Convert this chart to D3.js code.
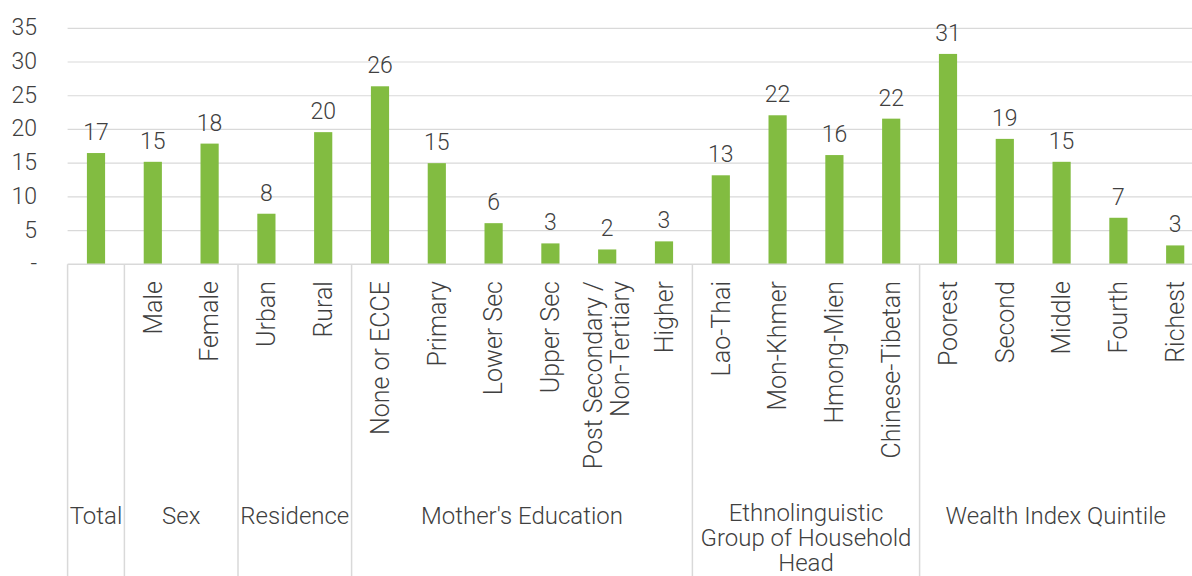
<!DOCTYPE html>
<html>
<head>
<meta charset="utf-8">
<script src="https://cdn.jsdelivr.net/npm/d3@7"></script>
<style>
  html, body { margin: 0; padding: 0; background: #fff; }
  svg { display: block; }
  text { font-family: Roboto, "Liberation Sans", Arial, sans-serif; font-weight: 300; fill: #404040; }
</style>
</head>
<body>
<svg id="chart" width="1192" height="576"></svg>
<script>
// ---- data ----
const categories = ["Total", "Male", "Female", "Urban", "Rural", "None or ECCE", "Primary", "Lower Sec", "Upper Sec",
  "Post Secondary /\nNon-Tertiary", "Higher", "Lao-Thai", "Mon-Khmer", "Hmong-Mien", "Chinese-Tibetan",
  "Poorest", "Second", "Middle", "Fourth", "Richest"];
const categoryLabels = ["", "Male", "Female", "Urban", "Rural", "None or ECCE", "Primary", "Lower Sec", "Upper Sec",
  "Post Secondary /\nNon-Tertiary", "Higher", "Lao-Thai", "Mon-Khmer", "Hmong-Mien", "Chinese-Tibetan",
  "Poorest", "Second", "Middle", "Fourth", "Richest"];
const values = [16.5, 15.2, 17.9, 7.5, 19.6, 26.4, 15.0, 6.1, 3.1, 2.2, 3.4, 13.2, 22.1, 16.2, 21.6, 31.2, 18.6, 15.2, 6.9, 2.8];
const groupNames = ["Total", "Sex", "Residence", "Mother's Education", "Ethnolinguistic\nGroup of Household\nHead", "Wealth Index Quintile"];
const groupSizes = [1, 2, 2, 6, 4, 5];
const yTicks = [0, 5, 10, 15, 20, 25, 30, 35];
const yTickLabels = ["-", "5", "10", "15", "20", "25", "30", "35"];

// ---- layout ----
const W = 1192, H = 576;
const plotLeft = 67.6, step = 56.8;
const plotRight = plotLeft + step * categories.length;
const y0 = 264.3, yTop = 28.3;
const green = "#82bc41", grid = "#d9d9d9";
const fs = 23, fsCat = 25, fsGroup = 24;

const svg = d3.select("#chart");

const x = d3.scaleBand().domain(categories).range([plotLeft, plotRight]).paddingInner(0.68).paddingOuter(0.34);
const y = d3.scaleLinear().domain([0, 35]).range([y0, yTop]);

// gridlines
svg.append("g").selectAll("line").data(yTicks.filter(d => d > 0)).join("line")
  .attr("x1", plotLeft).attr("x2", W + 20)
  .attr("y1", d => y(d)).attr("y2", d => y(d))
  .attr("stroke", grid).attr("stroke-width", 1.2);

// y axis labels
const yAxis = d3.axisLeft(y).tickValues(yTicks).tickFormat((d, i) => yTickLabels[i]).tickSize(0).tickPadding(0);
const gy = svg.append("g").attr("transform", "translate(37,0)").call(yAxis);
gy.select(".domain").remove();
gy.selectAll("text").attr("font-size", fs).attr("font-family", null).attr("fill", "#404040").attr("dy", "0.28em");

// bars
svg.append("g").selectAll("rect").data(values).join("rect")
  .attr("x", (d, i) => x(categories[i]))
  .attr("width", x.bandwidth())
  .attr("y", d => y(d))
  .attr("height", d => y(0) - y(d))
  .attr("fill", green);

// value labels
svg.append("g").selectAll("text").data(values).join("text")
  .attr("x", (d, i) => x(categories[i]) + x.bandwidth() / 2)
  .attr("y", d => y(d) - 13)
  .attr("text-anchor", "middle")
  .attr("font-size", fs)
  .text(d => Math.round(d));

// category axis line
svg.append("line").attr("x1", plotLeft).attr("x2", W + 20).attr("y1", y0).attr("y2", y0)
  .attr("stroke", grid).attr("stroke-width", 1.5);

// group separators
const bounds = [0];
groupSizes.forEach(s => bounds.push(bounds[bounds.length - 1] + s));
svg.append("g").selectAll("line").data(bounds.slice(0, -1)).join("line")
  .attr("x1", b => plotLeft + b * step).attr("x2", b => plotLeft + b * step)
  .attr("y1", y0).attr("y2", H)
  .attr("stroke", grid).attr("stroke-width", 1.5);

// rotated category labels
const lh = 27;
svg.append("g").selectAll("text").data(categoryLabels).join("text")
  .attr("transform", (d, i) => `translate(${x(categories[i]) + x.bandwidth() / 2},281) rotate(-90)`)
  .attr("text-anchor", "end")
  .attr("font-size", fsCat)
  .each(function (d) {
    const lines = d.split("\n");
    const t = d3.select(this);
    lines.forEach((ln, k) => {
      t.append("tspan").attr("x", 0)
        .attr("dy", k === 0 ? (0.35 * fsCat - (lines.length - 1) * lh / 2) : lh)
        .text(ln);
    });
  });

// group labels (centred on the visible part of each group span)
svg.append("g").selectAll("text").data(groupNames).join("text")
  .attr("font-size", fsGroup)
  .attr("text-anchor", "middle")
  .each(function (d, i) {
    const a = plotLeft + bounds[i] * step;
    const b = Math.min(W, plotLeft + bounds[i + 1] * step);
    const cx = (a + b) / 2;
    const lines = d.split("\n");
    const t = d3.select(this).attr("x", cx).attr("y", lines.length > 1 ? 521 : 524);
    lines.forEach((ln, k) => {
      t.append("tspan").attr("x", cx).attr("dy", k === 0 ? 0 : 25).text(ln);
    });
  });
</script>
</body>
</html>
